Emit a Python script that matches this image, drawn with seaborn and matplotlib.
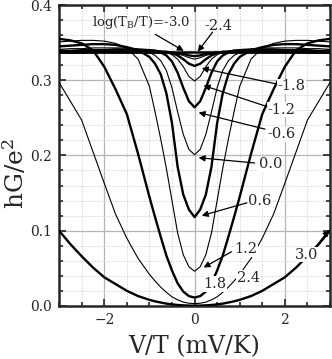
import numpy as np
import pandas as pd
import matplotlib
matplotlib.use("Agg")
import matplotlib.pyplot as plt
from matplotlib.ticker import MultipleLocator
import seaborn as sns

# bias axis V/T (mV/K)
v = [-3.0, -2.75, -2.5, -2.25, -2.0, -1.75, -1.5, -1.25, -1.0, -0.875, -0.75, -0.625,
     -0.5, -0.375, -0.25, -0.125, 0.0, 0.125, 0.25, 0.375, 0.5, 0.625, 0.75, 0.875,
     1.0, 1.25, 1.5, 1.75, 2.0, 2.25, 2.5, 2.75, 3.0]

# hG/e^2 for each log(T_B/T)
g_m30 = [0.337, 0.337, 0.337, 0.337, 0.337, 0.337, 0.337, 0.337, 0.337, 0.337, 0.337, 0.337,
         0.337, 0.336, 0.335, 0.333, 0.332, 0.333, 0.335, 0.336, 0.337, 0.337, 0.337, 0.337,
         0.337, 0.337, 0.337, 0.337, 0.337, 0.337, 0.337, 0.337, 0.337]
g_m24 = [0.337, 0.337, 0.337, 0.337, 0.337, 0.337, 0.338, 0.338, 0.338, 0.338, 0.337, 0.337,
         0.336, 0.335, 0.333, 0.330, 0.328, 0.330, 0.333, 0.335, 0.336, 0.337, 0.337, 0.338,
         0.338, 0.338, 0.338, 0.337, 0.337, 0.337, 0.337, 0.337, 0.337]
g_m18 = [0.337, 0.337, 0.337, 0.338, 0.338, 0.338, 0.338, 0.339, 0.339, 0.339, 0.338, 0.338,
         0.336, 0.333, 0.328, 0.322, 0.319, 0.322, 0.328, 0.333, 0.336, 0.338, 0.338, 0.339,
         0.339, 0.339, 0.338, 0.338, 0.338, 0.338, 0.337, 0.337, 0.337]
g_m12 = [0.338, 0.338, 0.338, 0.339, 0.339, 0.339, 0.340, 0.340, 0.340, 0.340, 0.339, 0.337,
         0.334, 0.328, 0.318, 0.305, 0.299, 0.305, 0.318, 0.328, 0.334, 0.337, 0.339, 0.340,
         0.340, 0.340, 0.340, 0.339, 0.339, 0.339, 0.338, 0.338, 0.338]
g_m06 = [0.339, 0.339, 0.340, 0.340, 0.340, 0.341, 0.341, 0.341, 0.340, 0.339, 0.337, 0.333,
         0.325, 0.310, 0.290, 0.272, 0.264, 0.272, 0.290, 0.310, 0.325, 0.333, 0.337, 0.339,
         0.340, 0.341, 0.341, 0.341, 0.340, 0.340, 0.340, 0.339, 0.339]
g_p00 = [0.341, 0.342, 0.342, 0.343, 0.343, 0.343, 0.343, 0.341, 0.337, 0.333, 0.326, 0.313,
         0.290, 0.258, 0.228, 0.208, 0.201, 0.208, 0.228, 0.258, 0.290, 0.313, 0.326, 0.333,
         0.337, 0.341, 0.343, 0.343, 0.343, 0.343, 0.342, 0.342, 0.341]
g_p06 = [0.345, 0.346, 0.347, 0.348, 0.348, 0.347, 0.344, 0.340, 0.331, 0.322, 0.308, 0.283,
         0.243, 0.185, 0.148, 0.128, 0.118, 0.128, 0.148, 0.185, 0.243, 0.283, 0.308, 0.322,
         0.331, 0.340, 0.344, 0.347, 0.348, 0.348, 0.347, 0.346, 0.345]
g_p12 = [0.351, 0.352, 0.353, 0.353, 0.352, 0.349, 0.343, 0.328, 0.292, 0.258, 0.222, 0.183,
         0.140, 0.097, 0.068, 0.052, 0.046, 0.052, 0.068, 0.097, 0.140, 0.183, 0.222, 0.258,
         0.292, 0.328, 0.343, 0.349, 0.352, 0.353, 0.353, 0.352, 0.351]
g_p18 = [0.355, 0.353, 0.349, 0.340, 0.318, 0.288, 0.255, 0.202, 0.145, 0.118, 0.092, 0.067,
         0.047, 0.030, 0.019, 0.013, 0.011, 0.013, 0.019, 0.030, 0.047, 0.067, 0.092, 0.118,
         0.145, 0.202, 0.255, 0.288, 0.318, 0.340, 0.349, 0.353, 0.355]
g_p24 = [0.297, 0.272, 0.247, 0.205, 0.163, 0.122, 0.090, 0.063, 0.042, 0.033, 0.025, 0.018,
         0.012, 0.008, 0.005, 0.0035, 0.003, 0.0035, 0.005, 0.008, 0.012, 0.018, 0.025, 0.033,
         0.042, 0.063, 0.090, 0.122, 0.163, 0.205, 0.247, 0.272, 0.297]
g_p30 = [0.100, 0.082, 0.066, 0.051, 0.038, 0.029, 0.020, 0.013, 0.008, 0.006, 0.0045, 0.003,
         0.002, 0.0012, 0.0007, 0.0004, 0.0003, 0.0004, 0.0007, 0.0012, 0.002, 0.003, 0.0045, 0.006,
         0.008, 0.013, 0.020, 0.029, 0.038, 0.051, 0.066, 0.082, 0.100]

log_tb = ['-3.0', '-2.4', '-1.8', '-1.2', '-0.6', '0.0', '0.6', '1.2', '1.8', '2.4', '3.0']
curves = [g_m30, g_m24, g_m18, g_m12, g_m06, g_p00, g_p06, g_p12, g_p18, g_p24, g_p30]
thick = ['-3.0', '-1.8', '-0.6', '0.6', '1.8', '3.0']
g_limit = 0.337  # 1/3 plateau line

df = pd.concat([pd.DataFrame({'v': v, 'g': g, 'lab': lab}) for lab, g in zip(log_tb, curves)])

sns.set_style('ticks')
plt.rcParams['font.family'] = ['DejaVu Serif']
plt.rcParams['mathtext.fontset'] = 'dejavuserif'

fig = plt.figure(figsize=(3.32, 3.59), dpi=100)
ax = fig.add_axes([0.178, 0.148, 0.816, 0.838])

ax.axhline(g_limit, color='k', lw=1.8, zorder=3)
for lab in log_tb:
    sub = df[df['lab'] == lab]
    sns.lineplot(data=sub, x='v', y='g', ax=ax, color='k',
                 lw=1.7 if lab in thick else 0.8, zorder=4, legend=False)

ax.set_xlim(-3, 3)
ax.set_ylim(0, 0.4)
ax.xaxis.set_major_locator(MultipleLocator(2))
ax.xaxis.set_minor_locator(MultipleLocator(0.5))
ax.yaxis.set_major_locator(MultipleLocator(0.1))
ax.yaxis.set_minor_locator(MultipleLocator(0.02))
ax.set_yticklabels(['%.1f' % t for t in ax.get_yticks()])
ax.grid(which='major', color='#b5b5b5', lw=0.9)
ax.grid(which='minor', color='#d5d5d5', lw=0.6, ls=(0, (2, 1.5)))
ax.set_axisbelow(True)
ax.tick_params(which='both', direction='in', top=True, right=True, labelsize=10, width=1.2)
ax.tick_params(which='major', length=5, pad=5)
ax.tick_params(which='minor', length=3)
for s in ax.spines.values():
    s.set_linewidth(1.8)

ax.set_xlabel('V/T (mV/K)', fontsize=17, labelpad=6)
ax.set_ylabel('hG/e$^2$', fontsize=18)
ax.yaxis.set_label_coords(-0.112, 0.44)

# labels and arrows
arr = dict(arrowstyle='-|>', color='k', lw=0.9, mutation_scale=9, shrinkA=0, shrinkB=0)
ax.text(-2.27, 0.377, r'log(T$_{\rm B}$/T)=-3.0', fontsize=9.5, va='center', ha='left')
ax.text(0.22, 0.372, '-2.4', fontsize=10.5, va='center', ha='left')
arrows = [((-0.87, 0.361), (-0.24, 0.339)),
          ((0.40, 0.364), (0.07, 0.338)),
          ((1.82, 0.295), (0.16, 0.316)),
          ((1.60, 0.265), (0.20, 0.293)),
          ((1.56, 0.235), (0.09, 0.257)),
          ((1.33, 0.190), (0.09, 0.197)),
          ((1.16, 0.137), (0.16, 0.120)),
          ((0.82, 0.072), (0.20, 0.051)),
          ((2.69, 0.079), (2.98, 0.101))]
for start, tip in arrows:
    ax.annotate('', xy=tip, xytext=start, arrowprops=arr, zorder=6)
side_labels = [('-1.8', 1.84, 0.292), ('-1.2', 1.62, 0.261), ('-0.6', 1.62, 0.228),
               ('0.0', 1.42, 0.188), ('0.6', 1.18, 0.139), ('1.2', 0.89, 0.075),
               ('1.8', 0.2, 0.029), ('2.4', 0.93, 0.037), ('3.0', 2.22, 0.068)]
for t, x, y in side_labels:
    ax.text(x, y, t, fontsize=10.5, va='center', ha='left',
            bbox=dict(facecolor='white', edgecolor='none', pad=0.5), zorder=5)

fig.savefig('out.png', dpi=100)
